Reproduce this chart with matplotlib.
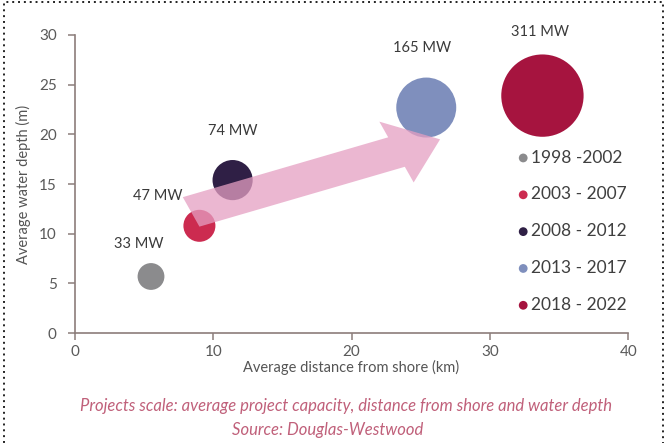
import matplotlib.pyplot as plt
from matplotlib.patches import FancyArrow, Rectangle

plt.rcParams['font.family'] = ['Lato', 'DejaVu Sans']

# average project per period
periods = ['1998 -2002', '2003 - 2007', '2008 - 2012', '2013 - 2017', '2018 - 2022']
distance_km = [5.5, 9.0, 11.4, 25.4, 33.8]
depth_m = [5.7, 10.8, 15.4, 22.7, 23.9]
capacity_mw = [33, 47, 74, 165, 311]
colors = ['#8b8b8d', '#cc2b50', '#2f1f45', '#7f8fbd', '#a6143f']

# label offsets (data units) for the capacity text
label_dx = [-0.9, -3.0, 0.0, -0.3, -0.2]
label_dy = [3.3, 3.0, 4.9, 6.0, 6.4]

fig = plt.figure(figsize=(6.69, 4.43), dpi=100)
ax = fig.add_axes([0.112, 0.248, 0.827, 0.673])

axis_col = '#8c7d7a'

for x, y, mw, c, per in zip(distance_km, depth_m, capacity_mw, colors, periods):
    ax.scatter(x, y, s=11.3 * mw, color=c, edgecolors='none', zorder=3, label=per)

# trend arrow
arrow = FancyArrow(8.4, 12.2, 18.0, 7.3, width=3.2, head_width=6.6, head_length=3.4,
                   length_includes_head=True, color='#e59fc2', alpha=0.75,
                   linewidth=0, zorder=4)
ax.add_patch(arrow)

for x, y, mw, dx, dy in zip(distance_km, depth_m, capacity_mw, label_dx, label_dy):
    ax.text(x + dx, y + dy, f'{mw} MW', ha='center', va='center', fontsize=10.5,
            color='#3a3a3a', clip_on=False, zorder=5)

ax.set_xlim(0, 40)
ax.set_ylim(0, 30)
ax.set_xticks([0, 10, 20, 30, 40])
ax.set_yticks([0, 5, 10, 15, 20, 25, 30])
for side in ['top', 'right']:
    ax.spines[side].set_visible(False)
for side in ['left', 'bottom']:
    ax.spines[side].set_color(axis_col)
    ax.spines[side].set_linewidth(1.2)
ax.tick_params(colors=axis_col, labelcolor='#5a5a5a', labelsize=11, length=5, width=1.1)
ax.tick_params(axis='y', pad=8)

ax.set_xlabel('Average distance from shore (km)', fontsize=10.5, color='#555555', labelpad=1)
ax.set_ylabel('Average water depth (m)', fontsize=10.5, color='#555555', labelpad=6)

leg = ax.legend(loc='upper left', bbox_to_anchor=(0.782, 0.645), frameon=False,
                fontsize=12.5, labelspacing=1.2, handletextpad=0.05,
                markerscale=1.0, borderpad=0, handlelength=0.8)
for h in leg.legend_handles:
    h.set_sizes([40])
for t in leg.get_texts():
    t.set_color('#3f3f3f')

fig.text(0.517, 0.083, 'Projects scale: average project capacity, distance from shore and water depth',
         ha='center', va='center', fontsize=12, style='italic', color='#c0607a')
fig.text(0.49, 0.030, 'Source: Douglas-Westwood', ha='center', va='center',
         fontsize=12, style='italic', color='#c0607a')

# dotted frame round the figure
fig.patches.append(Rectangle((0.006, -0.05), 0.985, 1.045, transform=fig.transFigure,
                             fill=False, linestyle=(0, (1, 2)), linewidth=1.4,
                             edgecolor='#222222'))

fig.savefig('out.png', dpi=100)
